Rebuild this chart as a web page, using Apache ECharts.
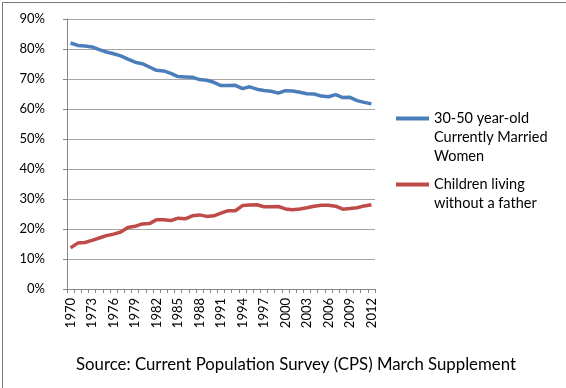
<!DOCTYPE html>
<html>
<head>
<meta charset="utf-8">
<script src="https://cdn.jsdelivr.net/npm/echarts@6/dist/echarts.min.js"></script>
<style>
html,body{margin:0;padding:0;background:#fff;}
#c{width:566px;height:388px;}
</style>
</head>
<body>
<div id="c"></div>
<script>
var years = [];
for (var y = 1970; y <= 2012; y++) years.push(String(y));

var marriedWomen = [82.0, 81.2, 81.0, 80.7, 79.8, 79.0, 78.4, 77.7, 76.6, 75.6,
  75.1, 74.0, 72.9, 72.7, 71.9, 70.8, 70.7, 70.6, 69.8, 69.6,
  68.9, 67.8, 67.8, 67.9, 66.8, 67.4, 66.6, 66.2, 65.9, 65.3,
  66.1, 66.0, 65.6, 65.1, 65.0, 64.3, 64.1, 64.8, 63.8, 63.9,
  62.8, 62.2, 61.7];

var childrenNoFather = [13.7, 15.3, 15.5, 16.2, 17.0, 17.8, 18.3, 19.0, 20.5, 20.9,
  21.7, 21.8, 23.1, 23.1, 22.8, 23.6, 23.4, 24.4, 24.7, 24.2,
  24.4, 25.3, 26.1, 26.1, 27.8, 28.0, 28.1, 27.4, 27.4, 27.5,
  26.7, 26.4, 26.7, 27.1, 27.6, 27.9, 27.9, 27.6, 26.6, 26.8,
  27.1, 27.7, 28.1];

var seriesNames = ['30-50 year-old\nCurrently Married\nWomen', 'Children living\nwithout a father'];
var sourceText = 'Source: Current Population Survey (CPS) March Supplement';

var FONT = 'Lato';
var chart = echarts.init(document.getElementById('c'), null, {renderer: 'canvas'});
var legendText = {fontFamily: FONT, fontSize: 14.5, color: '#000', lineHeight: 19};
// prepend blank lines so the icon sits level with the first text line
function topAligned(name) {
  var n = name.split('\n').length;
  var pre = '';
  for (var i = 1; i < n; i++) pre += '\n';
  return pre + name;
}
chart.setOption({
  animation: false,
  textStyle: {fontFamily: FONT},
  graphic: [{
    type: 'rect', left: 0, top: 0, silent: true,
    shape: {x: 0.5, y: 0.5, width: 565, height: 387},
    style: {fill: 'none', stroke: '#7a7a7a', lineWidth: 1}
  }],
  title: {
    text: sourceText, left: 71, top: 351,
    textStyle: {fontFamily: FONT, fontSize: 16.8, fontWeight: 'normal', color: '#000'}
  },
  legend: [{
    orient: 'vertical', left: 396, top: 71, padding: 0,
    itemWidth: 33, itemHeight: 4, icon: 'rect',
    data: [seriesNames[0]], formatter: topAligned,
    textStyle: legendText, selectedMode: false
  }, {
    orient: 'vertical', left: 396, top: 156, padding: 0,
    itemWidth: 33, itemHeight: 4, icon: 'rect',
    data: [seriesNames[1]], formatter: topAligned,
    textStyle: legendText, selectedMode: false
  }],
  grid: {left: 67, right: 191, top: 19, bottom: 99, containLabel: false},
  xAxis: {
    type: 'category', data: years, boundaryGap: true,
    axisLine: {lineStyle: {color: '#868686', width: 1}},
    axisTick: {show: true, interval: 0, length: 4, lineStyle: {color: '#868686'}},
    axisLabel: {interval: 2, rotate: 90, margin: 9, fontFamily: FONT, fontSize: 13, color: '#000'},
    splitLine: {show: false}
  },
  yAxis: {
    type: 'value', min: 0, max: 90, interval: 10,
    axisLine: {show: true, lineStyle: {color: '#868686', width: 1}},
    axisTick: {show: true, length: 4, lineStyle: {color: '#868686'}},
    axisLabel: {formatter: '{value}%', margin: 22, fontFamily: FONT, fontSize: 13, color: '#000'},
    splitLine: {show: true, lineStyle: {color: '#a6a6a6', width: 1}}
  },
  series: [{
    name: seriesNames[0], type: 'line', data: marriedWomen,
    symbol: 'none', smooth: false,
    lineStyle: {color: '#4a7ebb', width: 3.5}, itemStyle: {color: '#4a7ebb'}
  }, {
    name: seriesNames[1], type: 'line', data: childrenNoFather,
    symbol: 'none', smooth: false,
    lineStyle: {color: '#be4b48', width: 3.5}, itemStyle: {color: '#be4b48'}
  }]
});
</script>
</body>
</html>
